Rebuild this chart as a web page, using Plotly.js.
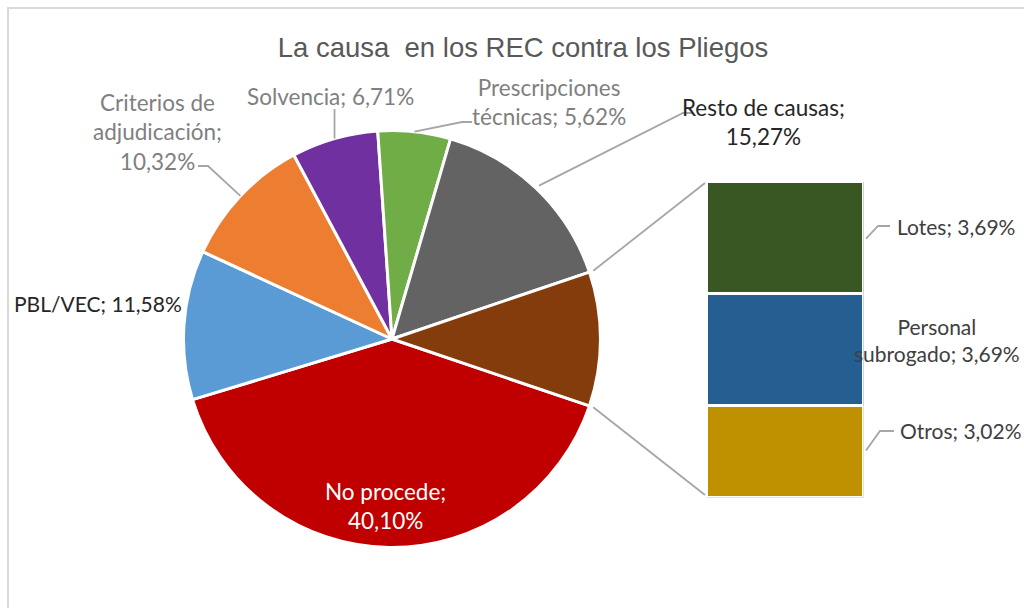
<!DOCTYPE html>
<html>
<head>
<meta charset="utf-8">
<script src="https://cdn.plot.ly/plotly-3.0.1.min.js"></script>
<style>
  html, body { margin: 0; padding: 0; background: #fff; }
  #chart { width: 1024px; height: 608px; }
</style>
</head>
<body>
<div id="chart"></div>
<script>
// pie slices, clockwise from the bottom edge of the brown "other" slice
var pieLabels = ['No procede', 'PBL/VEC', 'Criterios de adjudicación', 'Solvencia',
                 'Prescripciones técnicas', 'Resto de causas', 'Otras causas'];
var pieValues = [40.10, 11.58, 10.32, 6.71, 5.62, 15.27, 10.40];
var pieColors = ['#C00000', '#5B9BD5', '#ED7D31', '#7030A0', '#70AD47', '#636363', '#843C0C'];
var pieText = ['No procede;<br>40,10%', 'PBL/VEC; 11,58%', 'Criterios de<br>adjudicación;<br>10,32%',
               'Solvencia; 6,71%', 'Prescripciones<br>técnicas; 5,62%', 'Resto de causas;<br>15,27%', ''];

// breakdown bar, bottom to top
var barLabels = ['Otros', 'Personal subrogado', 'Lotes'];
var barValues = [3.02, 3.69, 3.69];
var barColors = ['#BF9000', '#255E91', '#385723'];
var barText = ['Otros; 3,02%', 'Personal<br>subrogado; 3,69%', 'Lotes; 3,69%'];

var W = 1024, H = 608;
function px(x) { return x / W; }
function py(y) { return 1 - y / H; }

// geometry (pixels)
var cx = 392, cy = 339, r = 208.5;
var bx0 = 708, bx1 = 862, by0 = 183, by1 = 496;

var total = pieValues.reduce(function (a, b) { return a + b; }, 0);
var otherShare = pieValues[pieValues.length - 1];
var rotation = 90 + otherShare / total * 180;

function piePoint(angleDeg, rad) {
  var a = angleDeg * Math.PI / 180;
  return [cx + rad * Math.sin(a), cy - rad * Math.cos(a)];
}
function midAngle(i) {
  var cum = 0;
  for (var k = 0; k < i; k++) cum += pieValues[k];
  return rotation + (cum + pieValues[i] / 2) / total * 360;
}

var barTotal = barValues.reduce(function (a, b) { return a + b; }, 0);
function barMidY(i) {
  var cum = 0;
  for (var k = 0; k < i; k++) cum += barValues[k];
  return by1 - (cum + barValues[i] / 2) / barTotal * (by1 - by0);
}

var traces = [{
  type: 'pie',
  labels: pieLabels,
  values: pieValues,
  sort: false,
  direction: 'clockwise',
  rotation: rotation,
  textinfo: 'none',
  hoverinfo: 'label+percent',
  marker: { colors: pieColors, line: { color: '#ffffff', width: 3 } },
  domain: { x: [px(cx - r), px(cx + r)], y: [py(cy + r), py(cy - r)] },
  showlegend: false
}];

barLabels.forEach(function (name, i) {
  traces.push({
    type: 'bar',
    name: name,
    x: [0],
    y: [barValues[i]],
    width: 1,
    marker: { color: barColors[i], line: { color: '#ffffff', width: 3 } },
    hoverinfo: 'name+y',
    showlegend: false,
    xaxis: 'x',
    yaxis: 'y'
  });
});

var grey = '#A6A6A6';
var shapes = [{
  type: 'rect', xref: 'paper', yref: 'paper',
  x0: px(8), y0: py(8), x1: 1.2, y1: -0.2,
  line: { color: '#D9D9D9', width: 2 }
}];

function path(points) {
  return points.map(function (p, i) {
    return (i ? 'L' : 'M') + px(p[0]) + ',' + py(p[1]);
  }).join(' ');
}
function leader(points) {
  shapes.push({ type: 'path', xref: 'paper', yref: 'paper', path: path(points),
                line: { color: grey, width: 1.8 } });
}

// connector lines from the "other" slice to the bar
var topEdge = piePoint(rotation - otherShare / total * 360, r + 4);
var botEdge = piePoint(rotation, r + 4);
leader([topEdge, [bx0 - 3, by0]]);
leader([botEdge, [bx0 - 3, by1 - 1]]);

// pie leader lines
leader([piePoint(midAngle(2), r), [208, 166], [198, 166]]);
leader([piePoint(midAngle(3), r), [piePoint(midAngle(3), r)[0], 109]]);
leader([piePoint(midAngle(4), r), [462, 122], [472, 122]]);
leader([piePoint(midAngle(5), r + 4), [683, 113], [693, 113]]);

// bar leader lines
leader([[bx1 + 4, barMidY(2)], [878, 226], [890, 226]]);
leader([[bx1 + 4, barMidY(0)], [880, 431], [894, 431]]);

var labelFont = 'Lato, "Open Sans", sans-serif';
function note(text, x, y, color, xanchor, size) {
  return {
    xref: 'paper', yref: 'paper', x: px(x), y: py(y),
    xanchor: xanchor || 'center', yanchor: 'middle', align: 'center',
    text: text, showarrow: false,
    font: { family: labelFont, size: size || 22.5, color: color }
  };
}

var annotations = [
  note(pieText[0], 385, 506, '#ffffff'),
  note(pieText[1], 98, 303, '#262626', 'center', 21),
  note(pieText[2], 157, 132, '#7F7F7F'),
  note(pieText[3], 330, 96, '#7F7F7F'),
  note(pieText[4], 549, 102, '#7F7F7F'),
  note(pieText[5], 763, 122, '#262626'),
  note(barText[2], 895, 227, '#404040', 'left', 21),
  note(barText[1], 937, 340, '#404040', 'center', 21),
  note(barText[0], 898, 430, '#404040', 'left', 21)
];

var layout = {
  width: W,
  height: H,
  margin: { l: 0, r: 0, t: 0, b: 0 },
  paper_bgcolor: '#ffffff',
  plot_bgcolor: '#ffffff',
  title: {
    text: 'La causa  en los REC contra los Pliegos',
    font: { family: '"Liberation Sans", Arial, sans-serif', size: 27.5, color: '#595959' },
    x: px(523), xanchor: 'center',
    y: py(47), yanchor: 'middle'
  },
  barmode: 'stack',
  xaxis: { domain: [px(bx0 - 1.5), px(bx1 + 1.5)], range: [-0.5, 0.5], visible: false, fixedrange: true },
  yaxis: { domain: [py(by1 + 1.5), py(by0 - 1.5)], range: [0, barTotal], visible: false, fixedrange: true },
  shapes: shapes,
  annotations: annotations
};

Plotly.newPlot('chart', traces, layout, { displayModeBar: false, staticPlot: true });
</script>
</body>
</html>
